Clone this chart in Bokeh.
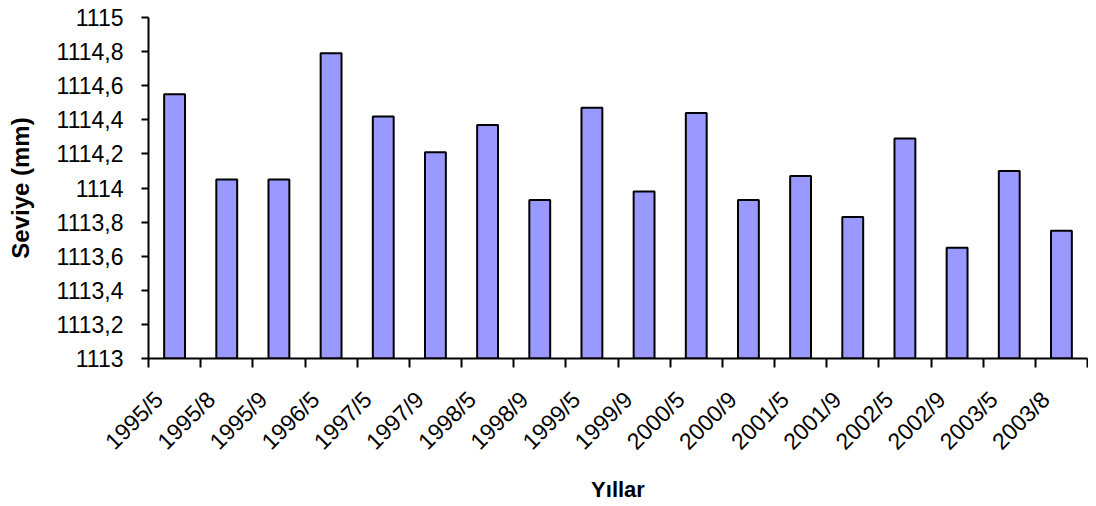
from math import pi
from bokeh.plotting import figure
from bokeh.models import ColumnDataSource, Range1d, FixedTicker
from bokeh.embed import file_html
from bokeh.resources import INLINE

categories = ["1995/5", "1995/8", "1995/9", "1996/5", "1997/5", "1997/9", "1998/5", "1998/9",
              "1999/5", "1999/9", "2000/5", "2000/9", "2001/5", "2001/9", "2002/5", "2002/9",
              "2003/5", "2003/8"]
levels = [1114.55, 1114.05, 1114.05, 1114.79, 1114.42, 1114.21, 1114.37, 1113.93,
          1114.47, 1113.98, 1114.44, 1113.93, 1114.07, 1113.83, 1114.29, 1113.65,
          1114.10, 1113.75]
y_ticks = [1113.0, 1113.2, 1113.4, 1113.6, 1113.8, 1114.0, 1114.2, 1114.4, 1114.6, 1114.8, 1115.0]
y_labels = ["1113", "1113,2", "1113,4", "1113,6", "1113,8", "1114", "1114,2", "1114,4",
            "1114,6", "1114,8", "1115"]

FONT = "Liberation Sans"

n = len(categories)
xs = [i + 0.5 for i in range(n)]
label_pos = [i + 0.2 for i in range(n)]  # rotated label anchor, slightly left of bar centre
src = ColumnDataSource(dict(x=xs, top=levels, bottom=[y_ticks[0]] * n))

p = figure(frame_width=939, frame_height=341, output_backend="svg", toolbar_location=None,
           x_range=Range1d(0, n), y_range=Range1d(y_ticks[0], y_ticks[-1]),
           min_border_left=148, min_border_right=1, min_border_top=17, min_border_bottom=130)
p.outline_line_color = None
p.xgrid.grid_line_color = None
p.ygrid.grid_line_color = None
p.background_fill_color = "white"
p.border_fill_color = "white"

p.vbar(x="x", top="top", bottom="bottom", width=0.4, source=src,
       fill_color="#9999FF", line_color="black", line_width=2)

# x axis
xa = p.xaxis[0]
xa.ticker = FixedTicker(ticks=label_pos, minor_ticks=list(range(n + 1)))
xa.major_label_overrides = {x: c for x, c in zip(label_pos, categories)}
xa.major_tick_line_color = None
xa.minor_tick_line_color = "black"
xa.minor_tick_line_width = 2
xa.minor_tick_out = 9
xa.minor_tick_in = 0
xa.axis_line_color = "black"
xa.axis_line_width = 2
xa.major_label_orientation = pi / 4
xa.major_label_text_font = FONT
xa.major_label_text_font_size = "23px"
xa.major_label_text_color = "black"
xa.major_label_standoff = 28
xa.axis_label = "Yıllar"
xa.axis_label_text_font = FONT
xa.axis_label_text_font_size = "22px"
xa.axis_label_text_font_style = "bold"
xa.axis_label_text_color = "black"
xa.axis_label_standoff = 10

# y axis
ya = p.yaxis[0]
ya.ticker = FixedTicker(ticks=y_ticks, minor_ticks=[])
ya.major_label_overrides = {t: l for t, l in zip(y_ticks, y_labels)}
ya.major_tick_line_color = "black"
ya.major_tick_line_width = 2
ya.major_tick_out = 7
ya.major_tick_in = 0
ya.axis_line_color = "black"
ya.axis_line_width = 2
ya.major_label_text_font = FONT
ya.major_label_text_font_size = "23px"
ya.major_label_text_color = "black"
ya.major_label_standoff = 18
ya.axis_label = "Seviye (mm)"
ya.axis_label_text_font = FONT
ya.axis_label_text_font_size = "24px"
ya.axis_label_text_font_style = "bold"
ya.axis_label_text_color = "black"
ya.axis_label_standoff = 20

open("out.html", "w").write(file_html(p, INLINE))
